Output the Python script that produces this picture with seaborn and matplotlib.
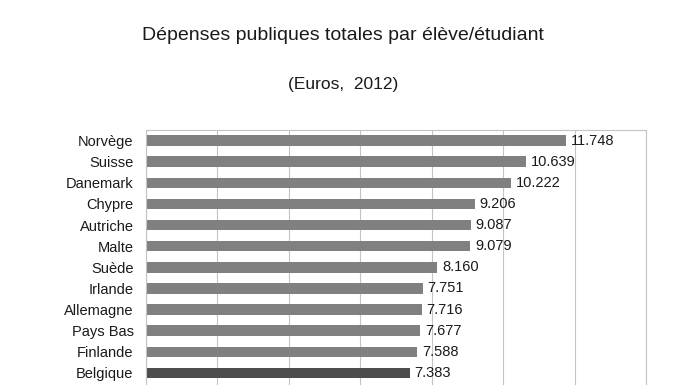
import matplotlib
matplotlib.use("Agg")
import matplotlib.pyplot as plt
import seaborn as sns
import pandas as pd

# data (euros per pupil/student, 2012)
countries = ["Norvège", "Suisse", "Danemark", "Chypre", "Autriche", "Malte",
             "Suède", "Irlande", "Allemagne", "Pays Bas", "Finlande", "Belgique"]
spending = [11748, 10639, 10222, 9206, 9087, 9079, 8160, 7751, 7716, 7677, 7588, 7383]
highlight = "Belgique"

df = pd.DataFrame({"pays": countries, "euros": spending})
colors = {c: ("#4d4d4d" if c == highlight else "#808080") for c in countries}

sns.set_style("white")
plt.rcParams["font.family"] = ["Liberation Sans", "DejaVu Sans"]

fig = plt.figure(figsize=(6.96, 3.85), dpi=100)
# plot area runs below the bottom of the picture (cropped like the original)
ax = fig.add_axes([146 / 696, 1 - 404.6 / 385, 500 / 696, 274.6 / 385])

sns.barplot(data=df, x="euros", y="pays", hue="pays", palette=colors,
            orient="h", width=0.5, legend=False, ax=ax, saturation=1,
            linewidth=0)

ax.set_xlim(0, 14000)
ax.set_ylim(12.5, -0.5)
ax.set_xticks(range(0, 14001, 2000))
ax.xaxis.grid(True, color="#c4c4c4", linewidth=0.8)
ax.set_axisbelow(True)
ax.tick_params(axis="x", length=0, labelbottom=False)

# category labels centred, tick marks on the boundaries
ax.set_yticks(range(len(countries)))
ax.set_yticklabels(countries, fontsize=10.5, color="#1a1a1a")
ax.tick_params(axis="y", which="major", length=0, pad=9)
ax.set_yticks([i - 0.5 for i in range(len(countries) + 1)], minor=True)
ax.tick_params(axis="y", which="minor", length=4.3, color="#b0b0b0", width=0.8)
ax.set_xlabel("")
ax.set_ylabel("")

for s in ax.spines.values():
    s.set_color("#c4c4c4")
    s.set_linewidth(0.8)

for cont in ax.containers:
    ax.bar_label(cont, labels=[f"{v:,.0f}".replace(",", ".") for v in cont.datavalues],
                 padding=3.5, fontsize=10.5, color="#1a1a1a")

fig.text(343 / 696, 1 - 35 / 385, "Dépenses publiques totales par élève/étudiant",
         ha="center", va="center", fontsize=14, color="#1a1a1a")
fig.text(343 / 696, 1 - 85 / 385, "(Euros,  2012)",
         ha="center", va="center", fontsize=12.5, color="#1a1a1a")

fig.savefig("out.png", dpi=100)
